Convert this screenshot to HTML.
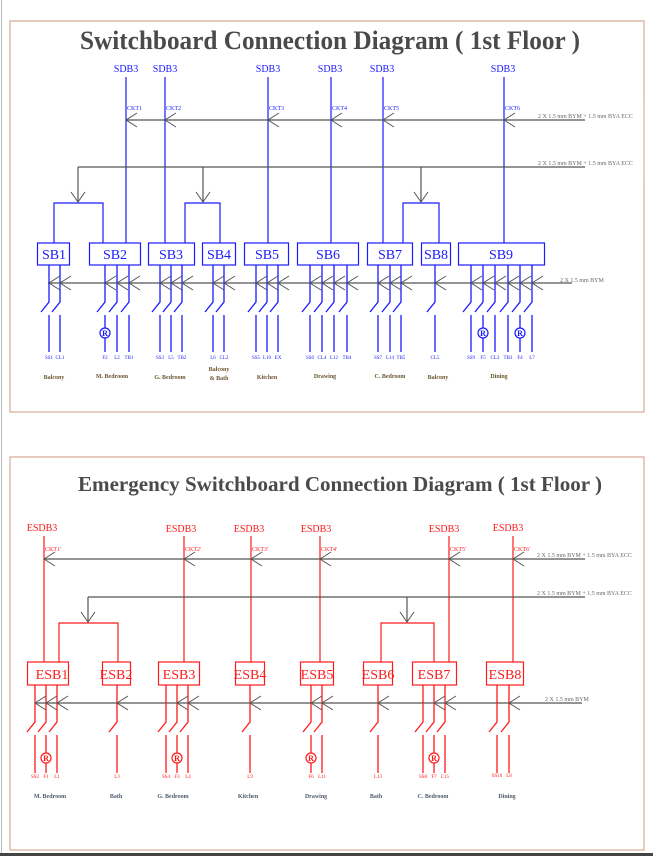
<!DOCTYPE html>
<html><head><meta charset="utf-8"><style>
html,body{margin:0;padding:0;background:#fff;}
svg{display:block;}
text{font-family:"Liberation Serif",serif;}
</style></head><body>
<svg width="653" height="856" viewBox="0 0 653 856" xmlns="http://www.w3.org/2000/svg">
<defs>
<path id="ch" d="M11,-7 L0,0 L11,7" fill="none" stroke="#555" stroke-width="1"/>
<path id="dn" d="M-7,-10 L0,0 L7,-10" fill="none" stroke="#555" stroke-width="1"/>
<path id="swb" d="M0,0 V37 L-8,47 M0,50 V87" fill="none" stroke="#1a1aff" stroke-width="1.3"/>
<path id="swr" d="M0,0 V37 L-8,47 M0,50 V88" fill="none" stroke="#ff1a1a" stroke-width="1.3"/>
<g id="rb"><circle r="5" fill="#fff" stroke="#1a1aff" stroke-width="1.2"/><text y="3" text-anchor="middle" font-size="8" font-weight="bold" fill="#1a1aff">R</text></g>
<g id="rr"><circle r="5" fill="#fff" stroke="#ff1a1a" stroke-width="1.2"/><text y="3" text-anchor="middle" font-size="8" font-weight="bold" fill="#ff1a1a">R</text></g>
</defs>
<rect x="0" y="0" width="653" height="856" fill="#fff"/>
<line x1="1.5" y1="0" x2="1.5" y2="856" stroke="#bbb" stroke-width="1"/>
<rect x="0" y="853" width="653" height="3" fill="#444"/>

<!-- PANEL 1 -->
<rect x="10" y="21" width="634" height="391" fill="none" stroke="#d8a898" stroke-width="1.2"/>
<text x="330" y="49" text-anchor="middle" font-size="26" font-weight="bold" fill="#4a4a4a" textLength="500" lengthAdjust="spacingAndGlyphs">Switchboard Connection Diagram ( 1st Floor )</text>

<g font-size="10" fill="#1a1aff" text-anchor="middle">
<text x="126" y="72">SDB3</text><text x="165" y="72">SDB3</text><text x="268" y="72">SDB3</text>
<text x="330" y="72">SDB3</text><text x="382" y="72">SDB3</text><text x="503" y="72">SDB3</text>
</g>
<g stroke="#1a1aff" stroke-width="1.2" fill="none">
<path d="M126,77 V243 M165,77 V243 M268,77 V243 M331,77 V243 M383,77 V243 M504,77 V243"/>
<path d="M54,243 V203 H103 V243 M185,243 V203 H220 V243 M403,243 V203 H439 V243"/>
<rect x="37.5" y="243" width="32" height="22"/><rect x="89.5" y="243" width="51" height="22"/>
<rect x="148.5" y="243" width="46" height="22"/><rect x="202.5" y="243" width="33" height="22"/>
<rect x="244.5" y="243" width="44" height="22"/><rect x="297.5" y="243" width="61" height="22"/>
<rect x="367.5" y="243" width="45" height="22"/><rect x="421.5" y="243" width="29" height="22"/>
<rect x="458.5" y="243" width="86" height="22"/>
</g>
<g font-size="14" fill="#1a1aff" text-anchor="middle">
<text x="54" y="259">SB1</text><text x="115" y="259">SB2</text><text x="171" y="259">SB3</text>
<text x="219" y="259">SB4</text><text x="267" y="259">SB5</text><text x="328" y="259">SB6</text>
<text x="390" y="259">SB7</text><text x="436" y="259">SB8</text><text x="501" y="259">SB9</text>
</g>
<g stroke="#555" stroke-width="1.2">
<line x1="126" y1="120" x2="585" y2="120"/>
<line x1="78" y1="167" x2="585" y2="167"/>
<path d="M78,167 V202 M203,167 V202 M421,167 V202" fill="none"/>
</g>
<use href="#ch" x="126" y="120"/><use href="#ch" x="165" y="120"/><use href="#ch" x="268" y="120"/>
<use href="#ch" x="331" y="120"/><use href="#ch" x="383" y="120"/><use href="#ch" x="504" y="120"/>
<use href="#dn" x="78" y="202"/><use href="#dn" x="203" y="202"/><use href="#dn" x="421" y="202"/>
<g font-size="6" fill="#1a1aff">
<text x="127" y="110">CKT1</text><text x="166" y="110">CKT2</text><text x="269" y="110">CKT3</text>
<text x="332" y="110">CKT4</text><text x="384" y="110">CKT5</text><text x="505" y="110">CKT6</text>
</g>
<g font-size="6" fill="#666">
<text x="538" y="118">2 X 1.5 mm BYM + 1.5 mm BYA ECC</text>
<text x="538" y="165">2 X 1.5 mm BYM + 1.5 mm BYA ECC</text>
<text x="560" y="282">2 X 1.5 mm BYM</text>
</g>
<rect x="636" y="100" width="7.5" height="80" fill="#fff"/>
<line x1="48" y1="283" x2="572" y2="283" stroke="#555" stroke-width="1.2"/>
<g>
<use href="#swb" x="49" y="265"/><use href="#swb" x="60" y="265"/>
<use href="#swb" x="105" y="265"/><use href="#swb" x="117" y="265"/><use href="#swb" x="129" y="265"/>
<use href="#swb" x="160" y="265"/><use href="#swb" x="171" y="265"/><use href="#swb" x="182" y="265"/>
<use href="#swb" x="213" y="265"/><use href="#swb" x="224" y="265"/>
<use href="#swb" x="256" y="265"/><use href="#swb" x="267" y="265"/><use href="#swb" x="278" y="265"/>
<use href="#swb" x="310" y="265"/><use href="#swb" x="322" y="265"/><use href="#swb" x="334" y="265"/><use href="#swb" x="347" y="265"/>
<use href="#swb" x="378" y="265"/><use href="#swb" x="390" y="265"/><use href="#swb" x="401" y="265"/>
<use href="#swb" x="435" y="265"/>
<use href="#swb" x="471" y="265"/><use href="#swb" x="483" y="265"/><use href="#swb" x="495" y="265"/><use href="#swb" x="508" y="265"/><use href="#swb" x="520" y="265"/><use href="#swb" x="532" y="265"/>
</g>
<g>
<use href="#ch" x="49" y="283"/><use href="#ch" x="60" y="283"/>
<use href="#ch" x="105" y="283"/><use href="#ch" x="117" y="283"/><use href="#ch" x="129" y="283"/>
<use href="#ch" x="160" y="283"/><use href="#ch" x="171" y="283"/><use href="#ch" x="182" y="283"/>
<use href="#ch" x="213" y="283"/><use href="#ch" x="224" y="283"/>
<use href="#ch" x="256" y="283"/><use href="#ch" x="267" y="283"/><use href="#ch" x="278" y="283"/>
<use href="#ch" x="310" y="283"/><use href="#ch" x="322" y="283"/><use href="#ch" x="334" y="283"/><use href="#ch" x="347" y="283"/>
<use href="#ch" x="378" y="283"/><use href="#ch" x="390" y="283"/><use href="#ch" x="401" y="283"/>
<use href="#ch" x="435" y="283"/>
<use href="#ch" x="471" y="283"/><use href="#ch" x="483" y="283"/><use href="#ch" x="495" y="283"/><use href="#ch" x="508" y="283"/><use href="#ch" x="520" y="283"/><use href="#ch" x="532" y="283"/>
</g>
<use href="#rb" x="105" y="333"/><use href="#rb" x="483" y="333"/><use href="#rb" x="520" y="333"/>
<g font-size="5" fill="#1a1aff" text-anchor="middle">
<text x="49" y="359">SS1</text><text x="60" y="359">CL1</text>
<text x="105" y="359">F2</text><text x="117" y="359">L2</text><text x="129" y="359">TB1</text>
<text x="160" y="359">SS3</text><text x="171" y="359">L5</text><text x="182" y="359">TB2</text>
<text x="213" y="359">L6</text><text x="224" y="359">CL2</text>
<text x="256" y="359">SS5</text><text x="267" y="359">L10</text><text x="278" y="359">EX</text>
<text x="310" y="359">SS6</text><text x="322" y="359">CL4</text><text x="334" y="359">L12</text><text x="347" y="359">TB4</text>
<text x="378" y="359">SS7</text><text x="390" y="359">L14</text><text x="401" y="359">TB5</text>
<text x="435" y="359">CL5</text>
<text x="471" y="359">SS9</text><text x="483" y="359">F5</text><text x="495" y="359">CL3</text><text x="508" y="359">TB3</text><text x="520" y="359">F4</text><text x="532" y="359">L7</text>
</g>
<g font-size="6" font-weight="bold" fill="#6b5530" text-anchor="middle">
<text x="54" y="379">Balcony</text><text x="112" y="378">M. Bedroom</text><text x="170" y="379">G. Bedroom</text>
<text x="219" y="371">Balcony</text><text x="219" y="380">&amp; Bath</text>
<text x="267" y="379">Kitchen</text><text x="325" y="378">Drawing</text><text x="390" y="378">C. Bedroom</text>
<text x="438" y="379">Balcony</text><text x="499" y="378">Dining</text>
</g>

<!-- PANEL 2 -->
<rect x="10" y="457" width="634" height="393" fill="none" stroke="#d8a898" stroke-width="1.2"/>
<text x="340" y="491" text-anchor="middle" font-size="21" font-weight="bold" fill="#4a4a4a" textLength="524" lengthAdjust="spacingAndGlyphs">Emergency Switchboard Connection Diagram ( 1st Floor )</text>
<g font-size="10" fill="#ff1a1a" text-anchor="middle">
<text x="42" y="531">ESDB3</text><text x="181" y="532">ESDB3</text><text x="249" y="532">ESDB3</text>
<text x="316" y="532">ESDB3</text><text x="444" y="532">ESDB3</text><text x="508" y="531">ESDB3</text>
</g>
<g stroke="#ff1a1a" stroke-width="1.2" fill="none">
<path d="M44,536 V662 M184,536 V662 M251,536 V662 M320,536 V662 M449,536 V662 M513,536 V662"/>
<path d="M59,662 V623 H118 V662 M381,662 V623 H434 V662"/>
<rect x="27.5" y="662" width="41" height="23"/><rect x="102.5" y="662" width="28" height="23"/>
<rect x="158.5" y="662" width="41" height="23"/><rect x="235.5" y="662" width="29" height="23"/>
<rect x="300.5" y="662" width="33" height="23"/><rect x="363.5" y="662" width="29" height="23"/>
<rect x="412.5" y="662" width="44" height="23"/><rect x="486.5" y="662" width="37" height="23"/>
</g>
<g font-size="14" fill="#ff1a1a" text-anchor="middle">
<text x="52" y="679">ESB1</text><text x="116" y="679">ESB2</text><text x="179" y="679">ESB3</text>
<text x="250" y="679">ESB4</text><text x="317" y="679">ESB5</text><text x="378" y="679">ESB6</text>
<text x="434" y="679">ESB7</text><text x="505" y="679">ESB8</text>
</g>
<g stroke="#555" stroke-width="1.2">
<line x1="44" y1="559" x2="585" y2="559"/>
<line x1="88" y1="597" x2="585" y2="597"/>
<path d="M88,597 V622 M407,597 V622" fill="none"/>
</g>
<use href="#ch" x="44" y="559"/><use href="#ch" x="184" y="559"/><use href="#ch" x="251" y="559"/>
<use href="#ch" x="320" y="559"/><use href="#ch" x="449" y="559"/><use href="#ch" x="513" y="559"/>
<use href="#dn" x="88" y="622"/><use href="#dn" x="407" y="622"/>
<g font-size="6" fill="#ff1a1a">
<text x="45" y="551">CKT1'</text><text x="185" y="551">CKT2'</text><text x="252" y="551">CKT3'</text>
<text x="321" y="551">CKT4'</text><text x="450" y="551">CKT5'</text><text x="514" y="551">CKT6'</text>
</g>
<g font-size="6" fill="#666">
<text x="537" y="557">2 X 1.5 mm BYM + 1.5 mm BYA ECC</text>
<text x="537" y="595">2 X 1.5 mm BYM + 1.5 mm BYA ECC</text>
<text x="545" y="701">2 X 1.5 mm BYM</text>
</g>
<line x1="35" y1="703" x2="582" y2="703" stroke="#555" stroke-width="1.2"/>
<g>
<use href="#swr" x="35" y="685"/><use href="#swr" x="46" y="685"/><use href="#swr" x="57" y="685"/>
<use href="#swr" x="117" y="685"/>
<use href="#swr" x="166" y="685"/><use href="#swr" x="177" y="685"/><use href="#swr" x="188" y="685"/>
<use href="#swr" x="250" y="685"/>
<use href="#swr" x="311" y="685"/><use href="#swr" x="322" y="685"/>
<use href="#swr" x="378" y="685"/>
<use href="#swr" x="423" y="685"/><use href="#swr" x="434" y="685"/><use href="#swr" x="445" y="685"/>
<use href="#swr" x="497" y="685"/><use href="#swr" x="509" y="685"/>
</g>
<g>
<use href="#ch" x="35" y="703"/><use href="#ch" x="46" y="703"/><use href="#ch" x="57" y="703"/>
<use href="#ch" x="117" y="703"/>
<use href="#ch" x="177" y="703"/><use href="#ch" x="188" y="703"/>
<use href="#ch" x="250" y="703"/>
<use href="#ch" x="311" y="703"/><use href="#ch" x="322" y="703"/>
<use href="#ch" x="378" y="703"/>
<use href="#ch" x="434" y="703"/><use href="#ch" x="445" y="703"/>
<use href="#ch" x="509" y="703"/>
</g>
<use href="#rr" x="46" y="758"/><use href="#rr" x="177" y="758"/><use href="#rr" x="311" y="758"/><use href="#rr" x="434" y="758"/>
<g font-size="5" fill="#ff1a1a" text-anchor="middle">
<text x="35" y="778">SS2</text><text x="46" y="778">F1</text><text x="57" y="778">L1</text>
<text x="117" y="778">L3</text>
<text x="166" y="778">SS4</text><text x="177" y="778">F3</text><text x="188" y="778">L4</text>
<text x="250" y="778">L9</text>
<text x="311" y="778">F6</text><text x="322" y="778">L11</text>
<text x="378" y="778">L13</text>
<text x="423" y="778">SS8</text><text x="434" y="778">F7</text><text x="445" y="778">L15</text>
<text x="497" y="777">SS10</text><text x="509" y="777">L8</text>
</g>
<g font-size="6" font-weight="bold" fill="#505a6a" text-anchor="middle">
<text x="50" y="798">M. Bedroom</text><text x="116" y="798">Bath</text><text x="173" y="798">G. Bedroom</text>
<text x="248" y="798">Kitchen</text><text x="316" y="798">Drawing</text><text x="376" y="798">Bath</text>
<text x="433" y="798">C. Bedroom</text><text x="507" y="798">Dining</text>
</g>
</svg>
</body></html>
